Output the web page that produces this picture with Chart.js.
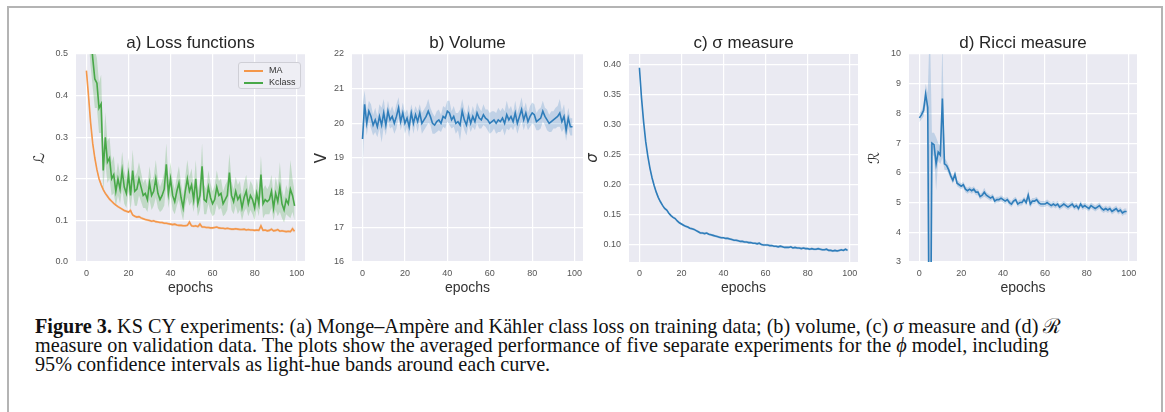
<!DOCTYPE html>
<html>
<head>
<meta charset="utf-8">
<script src="https://cdn.jsdelivr.net/npm/chart.js@4.4.0/dist/chart.umd.min.js"></script>
<style>
  body { margin: 0; background: #fff; width: 1165px; height: 412px; overflow: hidden; position: relative;
         font-family: "Liberation Sans", Arial, sans-serif; }
  #frame { position: absolute; left: 7px; top: 6px; width: 1156px; height: 430px; border: 2px solid #b4b4b4; box-sizing: border-box; }
  canvas { position: absolute; top: 29px; }
  #legendA { position: absolute; left: 238px; top: 62px; width: 63px; height: 27px; box-sizing: border-box;
             background: #eeeef4; border: 1px solid #cfcfd6; border-radius: 3px; font-size: 9px; color: #333; }
  #legendA .row { position: absolute; left: 5px; height: 12px; line-height: 12px; white-space: nowrap; }
  #legendA .sw { display: inline-block; width: 19px; height: 2px; vertical-align: middle; margin-right: 6px; }
  #caption { position: absolute; left: 35px; top: 316.5px; font-family: "Liberation Serif", "Times New Roman", serif;
             font-size: 20.2px; line-height: 19px; color: #111; white-space: nowrap; }
</style>
</head>
<body>
<div id="frame"></div>
<canvas id="chartA" width="285" height="269" style="left:30px"></canvas>
<canvas id="chartB" width="287" height="269" style="left:306px"></canvas>
<canvas id="chartC" width="285" height="269" style="left:583px"></canvas>
<canvas id="chartD" width="284" height="269" style="left:863px"></canvas>
<div id="legendA">
  <div class="row" style="top:1px"><span class="sw" style="background:#f4974a"></span>MA</div>
  <div class="row" style="top:13px"><span class="sw" style="background:#48a848"></span>Kclass</div>
</div>
<div id="caption"><b>Figure 3.</b> KS CY experiments: (a) Monge–Ampère and Kähler class loss on training data; (b) volume, (c) <i>σ</i> measure and (d) ℛ<br>measure on validation data. The plots show the averaged performance of five separate experiments for the <i>ϕ</i> model, including<br>95% confidence intervals as light-hue bands around each curve.</div>

<script>
/* epochs on the x axis */
const epochs = [0,1,2,3,4,5,6,7,8,9,10,11,12,13,14,15,16,17,18,19,20,21,22,23,24,25,26,27,28,29,
  30,31,32,33,34,35,36,37,38,39,40,41,42,43,44,45,46,47,48,49,50,51,52,53,54,55,56,57,58,59,
  60,61,62,63,64,65,66,67,68,69,70,71,72,73,74,75,76,77,78,79,80,81,82,83,84,85,86,87,88,89,
  90,91,92,93,94,95,96,97,98,99];
const xTicks = [0, 20, 40, 60, 80, 100];

/* a) loss functions */
const lossMA = [0.46,0.40,0.335,0.285,0.25,0.222,0.20,0.186,0.174,0.165,
  0.158,0.151,0.146,0.141,0.137,0.133,0.13,0.127,0.124,0.122,
  0.12,0.124,0.113,0.11,0.108,0.109,0.106,0.104,0.102,0.101,
  0.1,0.098,0.099,0.097,0.096,0.095,0.095,0.093,0.093,0.092,
  0.091,0.09,0.091,0.089,0.088,0.088,0.087,0.087,0.088,0.096,
  0.087,0.086,0.087,0.085,0.091,0.084,0.084,0.083,0.083,0.082,
  0.082,0.083,0.084,0.082,0.081,0.081,0.08,0.081,0.08,0.079,
  0.079,0.08,0.079,0.078,0.078,0.079,0.077,0.078,0.077,0.077,
  0.076,0.077,0.076,0.087,0.076,0.077,0.075,0.076,0.079,0.075,
  0.076,0.078,0.074,0.075,0.074,0.073,0.074,0.073,0.08,0.074];
const lossMACi = [0.012,0.01,0.008,0.007,0.006,0.005,0.005,0.004,0.004,0.004,
  0.004,0.004,0.003,0.003,0.003,0.003,0.003,0.003,0.003,0.003,
  0.003,0.006,0.003,0.003,0.003,0.003,0.003,0.003,0.003,0.003,
  0.003,0.003,0.003,0.003,0.003,0.003,0.003,0.003,0.003,0.003,
  0.003,0.003,0.003,0.003,0.003,0.003,0.003,0.003,0.003,0.006,
  0.003,0.003,0.003,0.003,0.006,0.003,0.003,0.003,0.003,0.003,
  0.003,0.003,0.003,0.003,0.003,0.003,0.003,0.003,0.003,0.003,
  0.003,0.003,0.003,0.003,0.003,0.003,0.003,0.003,0.003,0.003,
  0.003,0.003,0.003,0.007,0.003,0.003,0.003,0.003,0.004,0.003,
  0.003,0.004,0.003,0.003,0.003,0.003,0.003,0.003,0.006,0.004];
const lossKclass = [0.78,0.64,0.55,0.49,0.44,0.43,0.37,0.38,0.22,0.30,
  0.24,0.25,0.20,0.21,0.17,0.20,0.175,0.22,0.18,0.165,
  0.21,0.16,0.22,0.17,0.175,0.20,0.18,0.16,0.165,0.15,
  0.19,0.16,0.17,0.20,0.165,0.15,0.16,0.175,0.235,0.165,
  0.20,0.16,0.145,0.17,0.19,0.155,0.13,0.17,0.20,0.17,
  0.185,0.15,0.20,0.14,0.16,0.23,0.15,0.145,0.18,0.155,
  0.14,0.15,0.18,0.16,0.165,0.14,0.15,0.16,0.215,0.16,
  0.145,0.17,0.15,0.16,0.13,0.155,0.17,0.14,0.16,0.15,
  0.13,0.165,0.14,0.21,0.14,0.15,0.145,0.15,0.17,0.13,
  0.165,0.145,0.18,0.14,0.125,0.15,0.14,0.175,0.16,0.135];
const lossKclassCi = [0.12,0.1,0.08,0.07,0.07,0.06,0.06,0.07,0.05,0.06,
  0.05,0.05,0.04,0.045,0.035,0.04,0.035,0.045,0.04,0.035,
  0.04,0.035,0.05,0.035,0.04,0.04,0.035,0.03,0.035,0.03,
  0.04,0.035,0.035,0.045,0.035,0.03,0.035,0.04,0.05,0.035,
  0.04,0.035,0.03,0.035,0.04,0.035,0.03,0.035,0.045,0.035,
  0.04,0.03,0.045,0.03,0.035,0.055,0.035,0.03,0.04,0.035,
  0.03,0.035,0.04,0.035,0.035,0.03,0.035,0.035,0.045,0.035,
  0.03,0.035,0.035,0.035,0.03,0.035,0.04,0.03,0.035,0.035,
  0.03,0.035,0.03,0.045,0.035,0.035,0.03,0.035,0.04,0.03,
  0.04,0.035,0.06,0.035,0.03,0.035,0.03,0.07,0.04,0.035];
const lossTicks = [0, 0.1, 0.2, 0.3, 0.4, 0.5];

/* b) volume */
const volume = [19.55,20.55,20.0,20.35,20.2,19.95,20.1,19.9,20.2,19.95,
  20.3,19.95,20.35,20.1,20.2,20.0,20.2,20.45,20.05,20.3,
  20.0,20.15,19.9,20.3,20.0,20.25,20.05,20.3,20.0,20.1,
  20.2,20.35,20.2,20.0,19.95,20.05,20.1,20.0,20.2,20.15,
  20.35,20.3,20.1,20.2,20.0,20.05,19.95,20.35,20.1,19.95,
  20.25,20.0,20.2,20.05,20.3,20.15,20.1,20.25,20.15,20.1,
  20.0,20.05,20.1,20.0,20.1,20.05,20.15,20.0,20.25,20.1,
  20.2,20.05,20.3,20.0,20.2,20.4,20.1,20.3,20.05,20.2,
  20.3,20.25,20.05,20.1,20.15,20.35,20.2,20.1,20.0,20.05,
  20.1,20.15,20.2,20.3,20.05,20.2,19.8,20.15,19.9,19.9];
const volumeCi = [0.95,0.4,0.35,0.3,0.35,0.3,0.35,0.3,0.35,0.5,
  0.4,0.3,0.3,0.25,0.3,0.3,0.35,0.3,0.25,0.3,
  0.3,0.25,0.3,0.25,0.3,0.25,0.3,0.25,0.3,0.3,
  0.3,0.35,0.25,0.3,0.25,0.3,0.3,0.25,0.3,0.3,
  0.3,0.35,0.25,0.3,0.3,0.25,0.45,0.35,0.3,0.3,
  0.3,0.25,0.3,0.25,0.3,0.3,0.25,0.3,0.25,0.3,
  0.3,0.3,0.25,0.3,0.35,0.3,0.3,0.35,0.4,0.3,
  0.3,0.25,0.35,0.3,0.3,0.35,0.3,0.3,0.25,0.3,
  0.3,0.3,0.25,0.3,0.3,0.3,0.25,0.3,0.25,0.3,
  0.25,0.3,0.3,0.4,0.3,0.35,0.3,0.3,0.25,0.25];
const volumeTicks = [16, 17, 18, 19, 20, 21, 22];

/* c) sigma measure */
const sigma = [0.395,0.345,0.305,0.272,0.248,0.228,0.212,0.199,0.188,0.179,
  0.172,0.166,0.161,0.158,0.153,0.149,0.146,0.144,0.14,0.137,
  0.135,0.133,0.131,0.13,0.128,0.127,0.126,0.124,0.122,0.12,
  0.12,0.119,0.12,0.118,0.117,0.116,0.115,0.114,0.113,0.112,
  0.112,0.111,0.111,0.11,0.109,0.108,0.108,0.107,0.106,0.106,
  0.105,0.105,0.104,0.104,0.103,0.103,0.102,0.103,0.101,0.1,
  0.1,0.1,0.099,0.099,0.098,0.098,0.097,0.098,0.097,0.096,
  0.096,0.096,0.097,0.095,0.096,0.095,0.095,0.094,0.095,0.094,
  0.094,0.093,0.094,0.093,0.093,0.094,0.093,0.092,0.092,0.093,
  0.091,0.091,0.09,0.091,0.09,0.091,0.092,0.091,0.093,0.091];
const sigmaCi = [0.004,0.004,0.004,0.003,0.003,0.003,0.003,0.003,0.003,0.003,
  0.002,0.002,0.002,0.002,0.002,0.002,0.002,0.002,0.002,0.002,
  0.002,0.002,0.002,0.002,0.002,0.002,0.002,0.002,0.002,0.002,
  0.002,0.002,0.002,0.002,0.002,0.002,0.002,0.002,0.002,0.002,
  0.002,0.002,0.002,0.002,0.002,0.002,0.002,0.002,0.002,0.002,
  0.002,0.002,0.002,0.002,0.002,0.002,0.002,0.002,0.002,0.002,
  0.002,0.002,0.002,0.002,0.002,0.002,0.002,0.002,0.002,0.002,
  0.002,0.002,0.002,0.002,0.002,0.002,0.002,0.002,0.002,0.002,
  0.002,0.002,0.002,0.002,0.002,0.002,0.002,0.002,0.002,0.002,
  0.002,0.002,0.002,0.002,0.002,0.002,0.002,0.002,0.002,0.002];
const sigmaTicks = [0.10, 0.15, 0.20, 0.25, 0.30, 0.35, 0.40];

/* d) Ricci measure */
const ricci = [7.85,7.95,8.1,8.65,8.2,-4.0,7.0,6.95,6.3,6.7,
  6.6,8.5,6.3,6.25,6.1,5.9,5.75,5.95,5.65,5.6,
  5.55,5.6,5.45,5.4,5.45,5.4,5.45,5.35,5.35,5.2,
  5.25,5.35,5.25,5.2,5.15,5.2,5.05,5.1,5.1,5.15,
  5.1,5.05,5.1,5.0,4.95,5.05,5.1,4.95,5.0,5.0,
  5.1,5.0,5.25,4.95,5.05,5.05,5.1,5.0,4.95,4.95,
  4.95,5.0,4.95,4.9,4.95,4.9,4.95,4.85,4.9,4.95,
  4.9,4.85,4.9,4.95,4.85,4.9,4.8,4.95,4.85,4.9,
  4.85,4.8,4.9,4.85,4.8,4.85,4.9,4.8,4.75,4.8,
  4.75,4.8,4.7,4.75,4.8,4.7,4.75,4.65,4.7,4.7];
const ricciCi = [0.15,0.15,0.2,0.35,0.5,15.0,0.35,0.4,0.9,0.3,
  0.3,2.0,0.2,0.15,0.15,0.12,0.12,0.12,0.1,0.1,
  0.1,0.1,0.1,0.1,0.1,0.1,0.1,0.1,0.1,0.1,
  0.1,0.15,0.1,0.1,0.1,0.1,0.1,0.1,0.1,0.1,
  0.1,0.1,0.1,0.1,0.1,0.1,0.1,0.1,0.1,0.1,
  0.1,0.1,0.2,0.12,0.1,0.1,0.1,0.1,0.1,0.1,
  0.1,0.1,0.1,0.1,0.1,0.1,0.1,0.1,0.1,0.1,
  0.1,0.1,0.1,0.1,0.1,0.1,0.1,0.1,0.1,0.1,
  0.1,0.1,0.1,0.1,0.1,0.1,0.1,0.1,0.1,0.1,
  0.1,0.1,0.1,0.1,0.1,0.1,0.1,0.1,0.1,0.1];
const ricciTicks = [3, 4, 5, 6, 7, 8, 9, 10];

const BLUE = '#2f7dba', BLUE_BAND = 'rgba(47,125,186,0.22)';
const ORANGE = '#f4974a', ORANGE_BAND = 'rgba(244,151,74,0.25)';
const GREEN = '#48a848', GREEN_BAND = 'rgba(72,168,72,0.25)';
const FONT = '"Liberation Sans", Arial, sans-serif';

// seaborn-like grey plot background
const plotBg = {
  id: 'plotBg',
  beforeDraw(chart) {
    const { ctx, chartArea: a } = chart;
    ctx.save();
    ctx.fillStyle = '#eaeaf2';
    ctx.fillRect(a.left, a.top, a.right - a.left, a.bottom - a.top);
    ctx.restore();
  }
};

function lineSet(data, color) {
  return { data: data, borderColor: color, borderWidth: 1.6, pointRadius: 0, tension: 0, fill: false };
}

// upper + lower edge of a confidence band, lower one fills up to the upper one
function bandSets(mean, ci, color) {
  return [
    { data: mean.map((v, i) => v + ci[i]), borderWidth: 0, borderColor: 'rgba(0,0,0,0)', pointRadius: 0, fill: false },
    { data: mean.map((v, i) => v - ci[i]), borderWidth: 0, borderColor: 'rgba(0,0,0,0)', pointRadius: 0, fill: '-1', backgroundColor: color }
  ];
}

function makeChart(id, title, yTitle, yTitlePad, yMin, yMax, yTicks, yDigits, datasets, italicY) {
  return new Chart(document.getElementById(id), {
    type: 'line',
    data: { labels: epochs, datasets: datasets },
    plugins: [plotBg],
    options: {
      responsive: false,
      animation: false,
      layout: { padding: { left: 0, right: 10, top: 0, bottom: 0 } },
      plugins: {
        legend: { display: false },
        tooltip: { enabled: false },
        title: {
          display: true, text: title, color: '#262626', fullSize: false,
          font: { family: FONT, size: 17, weight: 'normal' },
          padding: { top: 4.1, bottom: 0.5 }
        }
      },
      scales: {
        x: {
          type: 'linear', min: -4.95, max: 103.95,
          afterBuildTicks: s => { s.ticks = xTicks.map(v => ({ value: v })); },
          afterFit: s => { s.height = 36; },
          grid: { color: '#ffffff', lineWidth: 1.2, drawTicks: false },
          border: { display: false },
          ticks: { color: '#555', font: { family: FONT, size: 9 }, padding: 6, maxRotation: 0, callback: v => String(v) },
          title: { display: true, text: 'epochs', color: '#333', font: { family: FONT, size: 14 }, padding: { top: 0, bottom: 1 } }
        },
        y: {
          min: yMin, max: yMax,
          afterBuildTicks: s => { s.ticks = yTicks.map(v => ({ value: v })); },
          afterFit: s => { s.width = 46; },
          grid: { color: '#ffffff', lineWidth: 1.2, drawTicks: false },
          border: { display: false },
          ticks: { color: '#555', font: { family: FONT, size: 9 }, padding: 8, callback: v => Number(v).toFixed(yDigits) },
          title: { display: true, text: yTitle, color: '#333',
                   font: { family: '"DejaVu Sans", ' + FONT, size: 15, style: italicY ? 'italic' : 'normal' },
                   padding: { top: yTitlePad, bottom: 0 } }
        }
      }
    }
  });
}

makeChart('chartA', 'a) Loss functions', 'ℒ', 1, 0, 0.5, lossTicks, 1, [
  lineSet(lossMA, ORANGE),
  lineSet(lossKclass, GREEN),
  ...bandSets(lossMA, lossMACi, ORANGE_BAND),
  ...bandSets(lossKclass, lossKclassCi, GREEN_BAND)
]);

makeChart('chartB', 'b) Volume', 'V', 7, 16, 22, volumeTicks, 0, [
  lineSet(volume, BLUE),
  ...bandSets(volume, volumeCi, BLUE_BAND)
]);

makeChart('chartC', 'c) σ measure', 'σ', 1, 0.0717, 0.418, sigmaTicks, 2, [
  lineSet(sigma, BLUE),
  ...bandSets(sigma, sigmaCi, BLUE_BAND)
], true);

makeChart('chartD', 'd) Ricci measure', 'ℛ', 3, 3, 10, ricciTicks, 0, [
  lineSet(ricci, BLUE),
  ...bandSets(ricci, ricciCi, BLUE_BAND)
]);
</script>
</body>
</html>
